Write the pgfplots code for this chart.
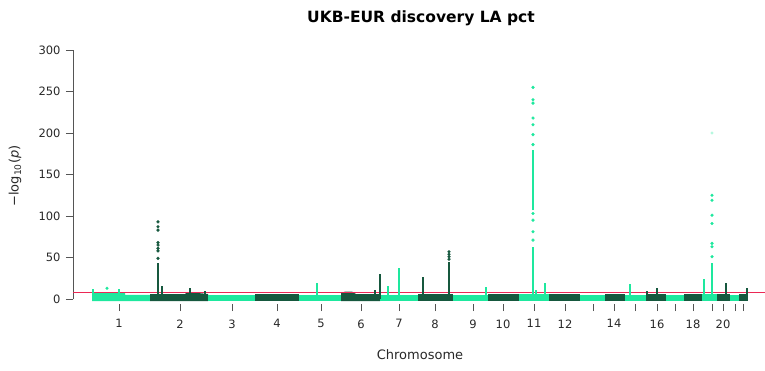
\documentclass[border=0pt]{standalone}
\usepackage{pgfplots}
\pgfplotsset{compat=1.18}
\usepackage{fontspec}
\setmainfont{DejaVu Sans}
\definecolor{lg}{RGB}{30,232,158}
\definecolor{dg}{RGB}{22,88,62}
\definecolor{sig}{RGB}{235,40,85}
\definecolor{axc}{RGB}{85,85,85}
\definecolor{txt}{RGB}{40,40,40}
\begin{document}
\begin{tikzpicture}
\begin{axis}[
    scale only axis,
    width=692pt, height=254pt,
    xmin=73, xmax=765, ymin=-6, ymax=300,
    axis x line*=bottom, axis y line*=left,
    x axis line style={draw=none},
    y axis line style={draw=none},
    tick align=outside,
    major tick length=7pt,
    tick style={axc, line width=0.8pt},
    ytick={0,50,100,150,200,250,300},
    xtick={119,180,232,277,321,361,399,435,473,503,534,565,593,614,635,657,675,693,712,723,735,743},
    xticklabels={1,2,3,4,5,6,7,8,9,10,11,12,,14,,16,,18,,20,,},
    ticklabel style={font=\fontsize{11.5}{13}\selectfont, text=txt},
    xticklabel style={yshift=-5pt},
    yticklabel style={xshift=-2pt},
    /pgf/number format/assume math mode=true,
    clip=false,
]
% y spine from 0 to 300
\draw[axc, line width=0.8pt] (axis cs:73,0) -- (axis cs:73,300);

% dense background band, one polygon per chromosome
\addplot[fill=lg, draw=none] coordinates {(92,-2.5)(92,8)(125,8)(125,5)(150,5)(150,-2.5)} --cycle;
\addplot[fill=dg, draw=none] coordinates {(150,-2.5)(150,6)(185,6)(186,7)(200,7)(208,6)(208,-2.5)} --cycle;
\addplot[fill=lg, draw=none] coordinates {(208,-2.5)(208,5)(255,5)(255,-2.5)} --cycle;
\addplot[fill=dg, draw=none] coordinates {(255,-2.5)(255,5.5)(299,5.5)(299,-2.5)} --cycle;
\addplot[fill=lg, draw=none] coordinates {(299,-2.5)(299,5)(341,5)(341,-2.5)} --cycle;
\addplot[fill=dg, draw=none] coordinates {(341,-2.5)(341,7)(345,9)(352,9)(356,6)(380,6)(380,-2.5)} --cycle;
\addplot[fill=lg, draw=none] coordinates {(380,-2.5)(380,5)(418,5)(418,-2.5)} --cycle;
\addplot[fill=dg, draw=none] coordinates {(418,-2.5)(418,6)(453,6)(453,-2.5)} --cycle;
\addplot[fill=lg, draw=none] coordinates {(453,-2.5)(453,5)(488,5)(488,-2.5)} --cycle;
\addplot[fill=dg, draw=none] coordinates {(488,-2.5)(488,6)(519,6)(519,-2.5)} --cycle;
\addplot[fill=lg, draw=none] coordinates {(519,-2.5)(519,5.5)(549,5.5)(549,-2.5)} --cycle;
\addplot[fill=dg, draw=none] coordinates {(549,-2.5)(549,6)(580,6)(580,-2.5)} --cycle;
\addplot[fill=lg, draw=none] coordinates {(580,-2.5)(580,5)(605,5)(605,-2.5)} --cycle;
\addplot[fill=dg, draw=none] coordinates {(605,-2.5)(605,6)(625,6)(625,-2.5)} --cycle;
\addplot[fill=lg, draw=none] coordinates {(625,-2.5)(625,5)(646,5)(646,-2.5)} --cycle;
\addplot[fill=dg, draw=none] coordinates {(646,-2.5)(646,6.5)(666,6.5)(666,-2.5)} --cycle;
\addplot[fill=lg, draw=none] coordinates {(666,-2.5)(666,5)(684,5)(684,-2.5)} --cycle;
\addplot[fill=dg, draw=none] coordinates {(684,-2.5)(684,6)(702,6)(702,-2.5)} --cycle;
\addplot[fill=lg, draw=none] coordinates {(702,-2.5)(702,5.5)(717,5.5)(717,-2.5)} --cycle;
\addplot[fill=dg, draw=none] coordinates {(717,-2.5)(717,6.5)(730,6.5)(730,-2.5)} --cycle;
\addplot[fill=lg, draw=none] coordinates {(730,-2.5)(730,5)(739,5)(739,-2.5)} --cycle;
\addplot[fill=dg, draw=none] coordinates {(739,-2.5)(739,6.5)(748,6.5)(748,-2.5)} --cycle;

% genome-wide significance line
\addplot[draw=sig, line width=1pt] coordinates {(73,7.8)(765,7.8)};

% dense columns of associated variants
\addplot[ycomb, lg, line width=2.6pt] coordinates {
 (93,12) (119,12) (317,19) (388,16) (399,37) (486,15)
 (533,63) (536,11) (545,19) (630,18) (704,24) (712,43)};
\addplot[ycomb, dg, line width=2.6pt] coordinates {
 (158,43) (162,16) (190,13) (205,10) (375,11) (380,30)
 (423,27) (449,45) (647,10) (657,13) (726,19) (747,13)};
\addplot[lg, line width=2.6pt] coordinates {(533,107)(533,180)};

% sparse top hits
\addplot[only marks, mark=*, mark size=1.4pt, lg] coordinates {
 (107,13)
 (533,71) (533,81) (533,95) (533,103) (533,186) (533,198) (533,210)
 (533,218) (533,236) (533,240) (533,255)
 (712,51) (712,63) (712,67) (712,91) (712,101) (712,119) (712,125)};
\addplot[only marks, mark=*, mark size=1.4pt, lg, opacity=0.25] coordinates {(712,200)};
\addplot[only marks, mark=*, mark size=1.4pt, dg] coordinates {
 (158,49) (158,58) (158,61) (158,65) (158,68) (158,83) (158,87) (158,93)
 (449,48) (449,51) (449,54) (449,57)};
\end{axis}
\node[font=\bfseries\fontsize{15.5}{18}\selectfont, text=black] at (348pt,286pt) {UKB-EUR discovery LA pct};
\node[font=\fontsize{13}{15}\selectfont, text=txt] at (347pt,-51pt) {Chromosome};
\node[font=\fontsize{13}{15}\selectfont, text=txt, rotate=90] at (-58pt,128pt) {−log\textsubscript{10}(\textit{p})};
\pgfresetboundingbox
\path (-73pt,-66pt) rectangle (692pt,304pt);
\end{tikzpicture}
\end{document}
